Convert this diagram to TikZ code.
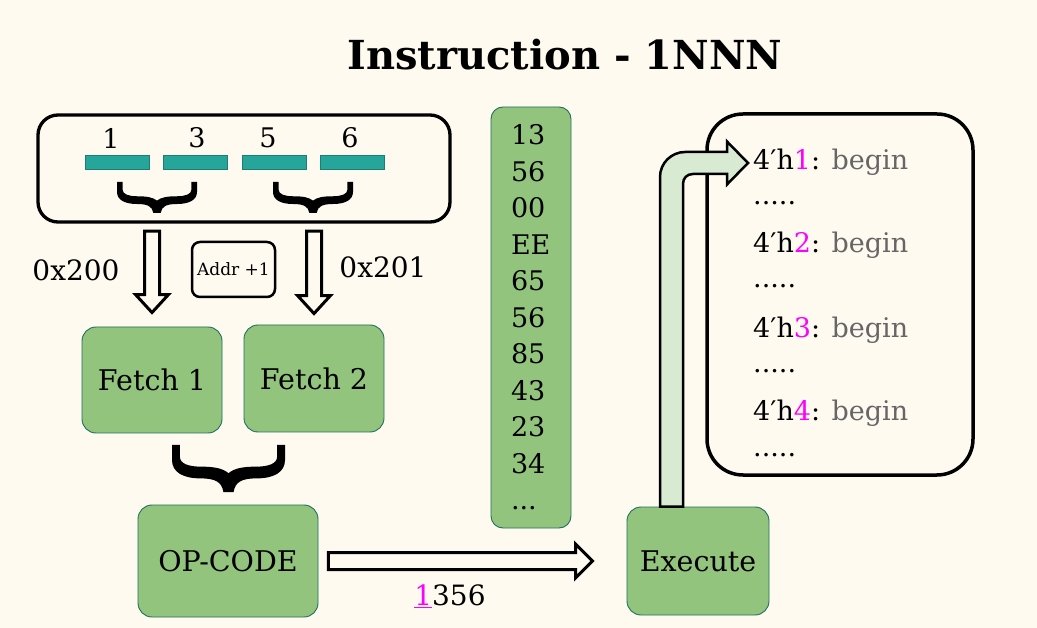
\documentclass[tikz,border=0pt]{standalone}
\usepackage{fontspec}
\setmainfont{DejaVu Serif}
\usetikzlibrary{calc}
\definecolor{bg}{HTML}{FEFAF0}
\definecolor{boxgreen}{HTML}{93C47D}
\definecolor{boxedge}{HTML}{1F6F5F}
\definecolor{barteal}{HTML}{26A69A}
\definecolor{baredge}{HTML}{1C7D73}
\definecolor{lightgreen}{HTML}{D9EAD3}
\definecolor{mag}{HTML}{FF00FF}
\definecolor{txtgray}{HTML}{666666}
\newcommand{\fs}[1]{\fontsize{#1}{#1}\selectfont}
\newcommand{\vblock}[2]{\draw[blockarrow] ($(#1)+(-7.5,0)$) -- ($(#2)+(-7.5,-18)$) -- ($(#2)+(-16.5,-18)$) -- (#2) -- ($(#2)+(16.5,-18)$) -- ($(#2)+(7.5,-18)$) -- ($(#1)+(7.5,0)$) -- cycle;}
\newcommand{\hexline}[1]{4′h\textcolor{mag}{#1}: \textcolor{txtgray}{begin}}
% filled curly brace: left x, top y, width, height
\newcommand{\bracefill}[4]{%
  \begin{scope}[shift={(#1,#2)}, xscale=#3, yscale=#4]
  \fill[black] (0,0) -- (0.07,0) -- (0.07,0.25)
    .. controls (0.07,0.4) and (0.15,0.46) .. (0.25,0.46)
    .. controls (0.38,0.46) and (0.45,0.5) .. (0.5,0.6)
    .. controls (0.55,0.5) and (0.62,0.46) .. (0.75,0.46)
    .. controls (0.85,0.46) and (0.93,0.4) .. (0.93,0.25)
    -- (0.93,0) -- (1,0) -- (1,0.32)
    .. controls (1,0.58) and (0.9,0.71) .. (0.75,0.71)
    .. controls (0.62,0.71) and (0.56,0.78) .. (0.545,1)
    -- (0.455,1)
    .. controls (0.44,0.78) and (0.38,0.71) .. (0.25,0.71)
    .. controls (0.1,0.71) and (0,0.58) .. (0,0.32) -- cycle;
  \end{scope}}
\begin{document}
\begin{tikzpicture}[x=1pt,y=-1pt,
  greenbox/.style={draw=boxedge, fill=boxgreen, rounded corners=14pt, line width=0.9pt, inner sep=0pt, font=\fs{28.5}},
  outlinebox/.style={draw=black, line width=3pt, rounded corners=#1, inner sep=0pt},
  blockarrow/.style={draw=black, line width=3pt, line join=miter, fill=bg},
  bar/.style={draw=baredge, fill=barteal, line width=0.8pt, minimum width=64pt, minimum height=14pt, inner sep=0pt},
  digit/.style={font=\fs{27}, inner sep=0pt},
  lbl/.style={font=\fs{28}, inner sep=0pt},
  rline/.style={font=\fs{27}, anchor=west, inner sep=0pt}]
\fill[bg] (0,0) rectangle (1037,628);
\useasboundingbox (0,0) rectangle (1037,628);

% title
\node[font=\bfseries\fs{40}, inner sep=0pt] (title) at (565,55) {Instruction - 1NNN};

% top instruction box
\node[outlinebox=20pt, line width=3.3pt, minimum width=412pt, minimum height=107pt] (top) at (244,168.5) {};
\node[bar] (b1) at (117,162) {};
\node[bar] (b2) at (195.5,162) {};
\node[bar] (b3) at (274,162) {};
\node[bar] (b4) at (352.5,162) {};
\node[digit] (d1) at (111,138) {1};
\node[digit] (d2) at (197,138) {3};
\node[digit] (d3) at (268,138) {5};
\node[digit] (d4) at (350,138) {6};
\bracefill{117}{182}{80}{31}
\bracefill{273}{182}{80}{31}

% fetch boxes
\node[greenbox, minimum width=140pt, minimum height=106pt] (f1) at (152,380) {Fetch 1};
\node[greenbox, minimum width=140pt, minimum height=107pt] (f2) at (314,378.5) {Fetch 2};
\node[greenbox, minimum width=180pt, minimum height=112pt] (op) at (228,561) {OP-CODE};
\node[greenbox, minimum width=142pt, minimum height=108pt] (ex) at (698,561) {Execute};

% addr
\node[outlinebox=8pt, line width=2.5pt, minimum width=83pt, minimum height=55pt, font=\fs{17}] (addr) at (233.5,269.5) {Addr +1};
\node[lbl] (l200) at (76,270) {0x200};
\node[lbl] (l201) at (383,267) {0x201};

% down arrows
\coordinate (d1s) at ($(f1.north |- top.south)+(0,7.5)$);
\coordinate (d1e) at ($(f1.north)+(0,-14)$);
\coordinate (d2s) at ($(f2.north |- top.south)+(0,7.5)$);
\coordinate (d2e) at ($(f2.north)+(0,-11)$);
\vblock{d1s}{d1e}
\vblock{d2s}{d2e}

% big brace
\bracefill{172}{445}{113}{47}

% memory
\node[greenbox, rounded corners=12pt, minimum height=421pt, text width=40pt, inner xsep=20pt, align=left, font=\fontsize{27}{36.5}\selectfont] (mem) at (531,317.5)
 {13\\56\\00\\EE\\65\\56\\85\\43\\23\\34\\...};

% op-code -> execute
\coordinate (h1) at ($(op.east)+(10,0)$);
\coordinate (h2) at ($(op.east -| ex.west)+(-34,0)$);
\draw[blockarrow] ($(h1)+(0,-8.5)$) -- ($(h2)+(-17,-8.5)$) -- ($(h2)+(-17,-17)$) -- (h2) -- ($(h2)+(-17,17)$) -- ($(h2)+(-17,8.5)$) -- ($(h1)+(0,8.5)$) -- cycle;
\node[font=\fs{28}, inner sep=0pt] (code) at (450,596) {\textcolor{mag}{\underline{1}}356};

% right box
\node[outlinebox=36pt, line width=3.5pt, minimum width=266pt, minimum height=361pt] (rb) at (840,294.5) {};
\node[rline] (r1) at (753,162) {\hexline{1}};
\node[rline] (r2) at (753,203) {.....};
\node[rline] (r3) at (753,245) {\hexline{2}};
\node[rline] (r4) at (753,286) {.....};
\node[rline] (r5) at (753,330) {\hexline{3}};
\node[rline] (r6) at (753,371) {.....};
\node[rline] (r7) at (753,413) {\hexline{4}};
\node[rline] (r8) at (753,455) {.....};

% bent arrow
\coordinate (bs) at ($(ex.north)+(-26.5,0)$);
\coordinate (bt) at ($(r1.west)+(-5,1)$);
\coordinate (bc) at (bs |- bt);
\draw[draw=black, line width=2.5pt, fill=lightgreen, line join=miter]
  ($(bs)+(-11.5,0)$) -- ($(bc)+(-11.5,14)$)
  .. controls ($(bc)+(-11.5,0)$) and ($(bc)+(0,-11)$) .. ($(bc)+(13.5,-11)$)
  -- ($(bt)+(-21,-11)$) -- ($(bt)+(-21,-21.5)$) -- (bt) -- ($(bt)+(-21,21.5)$) -- ($(bt)+(-21,11)$)
  -- ($(bc)+(21.5,11)$) .. controls ($(bc)+(15.5,11)$) and ($(bc)+(11.5,15)$) .. ($(bc)+(11.5,21)$)
  -- ($(bs)+(11.5,0)$) -- cycle;
\end{tikzpicture}
\end{document}
